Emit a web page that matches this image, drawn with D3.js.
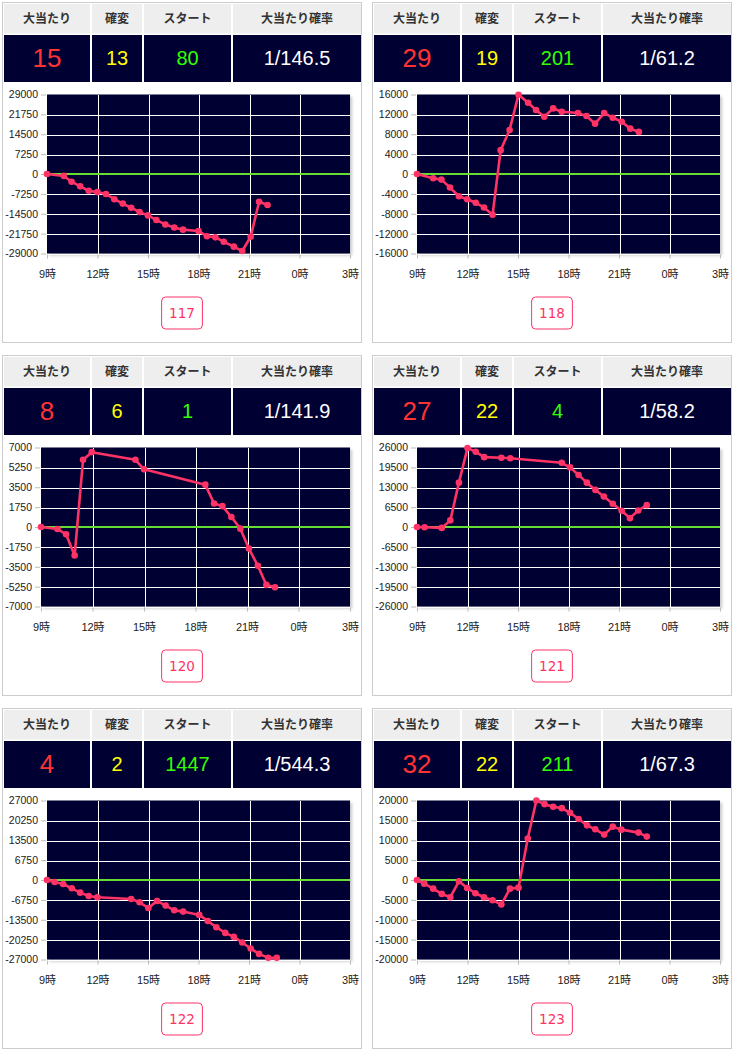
<!DOCTYPE html>
<html><head><meta charset="utf-8">
<script src="https://cdn.jsdelivr.net/npm/d3@7"></script>
<style>
html,body{margin:0;padding:0;background:#fff;}
svg{display:block;}
</style></head>
<body>
<script>
// ---- data ----
const machines = ["117", "118", "120", "121", "122", "123"];
const hits = [15, 29, 8, 27, 4, 32];
const kakuhen = [13, 19, 6, 22, 2, 22];
const starts = [80, 201, 1, 4, 1447, 211];
const probs = ["1/146.5", "1/61.2", "1/141.9", "1/58.2", "1/544.3", "1/67.3"];
const headers = ["大当たり", "確変", "スタート", "大当たり確率"];
const yTicks117 = [29000, 21750, 14500, 7250, 0, -7250, -14500, -21750, -29000];
const yTicks118 = [16000, 12000, 8000, 4000, 0, -4000, -8000, -12000, -16000];
const yTicks120 = [7000, 5250, 3500, 1750, 0, -1750, -3500, -5250, -7000];
const yTicks121 = [26000, 19500, 13000, 6500, 0, -6500, -13000, -19500, -26000];
const yTicks122 = [27000, 20250, 13500, 6750, 0, -6750, -13500, -20250, -27000];
const yTicks123 = [20000, 15000, 10000, 5000, 0, -5000, -10000, -15000, -20000];
const xTickHours = [9, 12, 15, 18, 21, 24, 27];
const xTickLabels = ["9時", "12時", "15時", "18時", "21時", "0時", "3時"];

const hours117 = [9.0, 10.0, 10.46, 10.97, 11.48, 11.99, 12.5, 13.0, 13.5, 14.0, 14.5, 15.0, 15.5, 16.03, 16.56, 17.08, 18.0, 18.5, 19.0, 19.5, 20.1, 20.6, 21.1, 21.6, 22.1];
const values117 = [0, -700, -2800, -4500, -6100, -6600, -7300, -9200, -10800, -12300, -13900, -15100, -16800, -18400, -19500, -20300, -20800, -22700, -23100, -24700, -26500, -28100, -22900, -10100, -11300];

const hours118 = [9.0, 9.96, 10.45, 10.96, 11.49, 11.98, 12.49, 12.98, 13.49, 13.97, 14.5, 15.03, 15.6, 16.07, 16.56, 17.09, 17.6, 18.56, 19.07, 19.58, 20.12, 20.63, 21.16, 21.67, 22.18];
const values118 = [0, -870, -1130, -2730, -4470, -5070, -5800, -6730, -8200, 4800, 8870, 15930, 14330, 12870, 11530, 13200, 12530, 12270, 11670, 10130, 12270, 11330, 10530, 9130, 8470];

const hours120 = [9.0, 9.96, 10.46, 10.96, 11.45, 11.96, 14.5, 15.0, 18.57, 19.08, 19.57, 20.09, 20.61, 21.11, 21.63, 22.13, 22.63];
const values120 = [0, -175, -640, -2510, 5920, 6590, 5920, 5075, 3730, 2070, 1840, 875, -145, -1900, -3410, -5100, -5310];

const hours121 = [9.0, 9.45, 10.47, 10.98, 11.49, 12.0, 12.49, 12.99, 14.01, 14.54, 17.6, 18.09, 18.6, 19.09, 19.6, 20.1, 20.63, 21.16, 21.65, 22.14, 22.65];
const values121 = [0, -100, -300, 2170, 14500, 25800, 24600, 22850, 22630, 22500, 21000, 19500, 17000, 14500, 12130, 9960, 7580, 5300, 2900, 5400, 7150];

const hours122 = [9.0, 9.45, 9.96, 10.47, 10.97, 11.48, 11.99, 14.0, 14.5, 15.02, 15.54, 16.05, 16.56, 17.09, 18.04, 18.55, 19.06, 19.59, 20.1, 20.6, 21.1, 21.6, 22.14, 22.65];
const values122 = [0, -680, -1360, -2820, -4300, -5420, -5880, -6440, -7570, -9500, -7120, -8700, -10280, -10730, -11860, -13900, -16050, -17970, -19320, -21240, -23280, -25090, -26440, -26440];

const hours123 = [9.0, 9.43, 9.96, 10.47, 10.98, 11.49, 11.98, 12.47, 12.98, 13.49, 14.01, 14.52, 15.03, 15.58, 16.09, 16.58, 17.09, 17.6, 18.09, 18.6, 19.1, 19.59, 20.12, 20.63, 21.14, 22.16, 22.65];
const values123 = [0, -920, -2170, -3500, -4330, -330, -2000, -3330, -4330, -5080, -6170, -2170, -1920, 10420, 20000, 19080, 18420, 18080, 16920, 15330, 13750, 12750, 11420, 13420, 12670, 11920, 10920];

const yTicksAll = [yTicks117, yTicks118, yTicks120, yTicks121, yTicks122, yTicks123];
const hoursAll = [hours117, hours118, hours120, hours121, hours122, hours123];
const valuesAll = [values117, values118, values120, values121, values122, values123];

// ---- style ----
const NAVY = "#000033", LINE = "#ff3366", ZERO = "#66dd33";
const numFont = "'Liberation Sans', Arial, sans-serif";
const jpFont = "'Noto Sans CJK JP', 'Noto Sans', sans-serif";
const axFont = "'Liberation Sans', 'Noto Sans CJK JP', sans-serif";

const W = 736, H = 1055;
const svg = d3.select("body").append("svg").attr("width", W).attr("height", H);

const defs = svg.append("defs");
const f = defs.append("filter").attr("id", "shadow").attr("x", "-5%").attr("y", "-5%").attr("width", "115%").attr("height", "115%");
f.append("feDropShadow").attr("dx", 2).attr("dy", 2).attr("stdDeviation", 1.5).attr("flood-color", "#000").attr("flood-opacity", 0.22);

const PW = 359, PH = 340;
const cellX = [1.5, 89.5, 141.5, 230.5];
const cellW = [86, 50, 87, 128];

machines.forEach((m, i) => {
  const col = i % 2, row = Math.floor(i / 2);
  const px = 2.5 + col * 370, py = 2.5 + row * 353;
  const g = svg.append("g").attr("transform", `translate(${px},${py})`);

  g.append("rect").attr("width", PW).attr("height", PH).attr("fill", "#fff").attr("stroke", "#cccccc");

  // table
  const dataVals = [hits[i], kakuhen[i], starts[i], probs[i]];
  const dataColors = ["#ff3333", "#ffff00", "#33ff00", "#ffffff"];
  const dataSizes = [26, 20, 20, 20];
  headers.forEach((h, c) => {
    g.append("rect").attr("x", cellX[c]).attr("y", 1.5).attr("width", cellW[c]).attr("height", 29.5).attr("fill", "#eeeeee");
    g.append("text").attr("x", cellX[c] + cellW[c] / 2).attr("y", 16.5).attr("dy", "0.35em")
      .attr("text-anchor", "middle").attr("font-family", jpFont).attr("font-size", 12).attr("font-weight", "bold")
      .attr("fill", "#333").text(h);
    g.append("rect").attr("x", cellX[c]).attr("y", 32.5).attr("width", cellW[c]).attr("height", 47).attr("fill", NAVY);
    g.append("text").attr("x", cellX[c] + cellW[c] / 2).attr("y", 55).attr("dy", "0.36em")
      .attr("text-anchor", "middle").attr("font-family", numFont).attr("font-size", dataSizes[c])
      .attr("fill", dataColors[c]).text(dataVals[c]);
  });

  // chart
  const top = 92, bottom = 251, right = 347.5;
  const ticks = yTicksAll[i];
  const yMax = d3.max(ticks);
  const y = d3.scaleLinear().domain([-yMax, yMax]).range([bottom, top]);

  const axisLayer = g.append("g");
  const yAxisG = axisLayer.append("g")
    .call(d3.axisLeft(y).tickValues(ticks).tickSize(5).tickPadding(3).tickFormat(d => String(d)));
  yAxisG.select(".domain").remove();
  yAxisG.selectAll("line").attr("stroke", "#bbbbbb");
  yAxisG.selectAll("text").attr("font-family", axFont).attr("font-size", 10.5).attr("fill", "#222");
  const bw = yAxisG.node().getBBox().width;
  const left = Math.round(2 + bw + 1) + 0.5;
  yAxisG.attr("transform", `translate(${left - 1},0)`);

  const x = d3.scaleLinear().domain([9, 27]).range([left, right]);

  const plot = g.append("g");
  g.node().insertBefore(plot.node(), axisLayer.node());
  plot.append("rect").attr("x", left).attr("y", top).attr("width", right - left).attr("height", bottom - top)
    .attr("fill", NAVY).attr("filter", "url(#shadow)");

  // grid
  plot.selectAll(".hg").data(ticks.filter(t => t !== 0 && t !== yMax)).enter().append("line")
    .attr("x1", left).attr("x2", right).attr("y1", d => Math.round(y(d)) + 0.5).attr("y2", d => Math.round(y(d)) + 0.5)
    .attr("stroke", "#ffffff").attr("stroke-width", 1).attr("shape-rendering", "crispEdges");
  plot.selectAll(".vg").data(xTickHours.slice(1, -1)).enter().append("line")
    .attr("y1", top).attr("y2", bottom).attr("x1", d => Math.round(x(d)) + 0.5).attr("x2", d => Math.round(x(d)) + 0.5)
    .attr("stroke", "#ffffff").attr("stroke-width", 1).attr("shape-rendering", "crispEdges");
  plot.append("line").attr("x1", left).attr("x2", right).attr("y1", y(0)).attr("y2", y(0))
    .attr("stroke", ZERO).attr("stroke-width", 2);

  // x axis
  const xAxisG = axisLayer.append("g").attr("transform", `translate(0,${bottom + 1})`)
    .call(d3.axisBottom(x).tickValues(xTickHours).tickSize(4).tickPadding(12)
      .tickFormat((d, k) => xTickLabels[k]));
  xAxisG.select(".domain").remove();
  xAxisG.selectAll("line").attr("stroke", "#bbbbbb");
  xAxisG.selectAll("text").attr("font-family", axFont).attr("font-size", 11).attr("fill", "#222");

  // series
  const pts = hoursAll[i].map((h, k) => ({ h, v: valuesAll[i][k] }));
  const line = d3.line().x(d => x(d.h)).y(d => y(d.v));
  const series = g.append("g");
  series.append("path").datum(pts).attr("d", line).attr("fill", "none")
    .attr("stroke", LINE).attr("stroke-width", 2.6).attr("stroke-linejoin", "round").attr("stroke-linecap", "round");
  series.selectAll("circle").data(pts).enter().append("circle")
    .attr("cx", d => x(d.h)).attr("cy", d => y(d.v)).attr("r", 3.3).attr("fill", LINE);

  // button
  const btn = g.append("g");
  const bt = btn.append("text").attr("x", PW / 2).attr("y", 310.5).attr("dy", "0.36em")
    .attr("text-anchor", "middle").attr("font-family", "'DejaVu Sans', sans-serif").attr("font-size", 13.5)
    .attr("fill", LINE).text(m);
  const tw = bt.node().getComputedTextLength();
  btn.insert("rect", "text").attr("x", PW / 2 - (tw + 15) / 2).attr("y", 294.5).attr("width", tw + 15).attr("height", 32)
    .attr("rx", 4).attr("fill", "#fff").attr("stroke", LINE).attr("stroke-width", 1);
});
</script>
</body></html>
